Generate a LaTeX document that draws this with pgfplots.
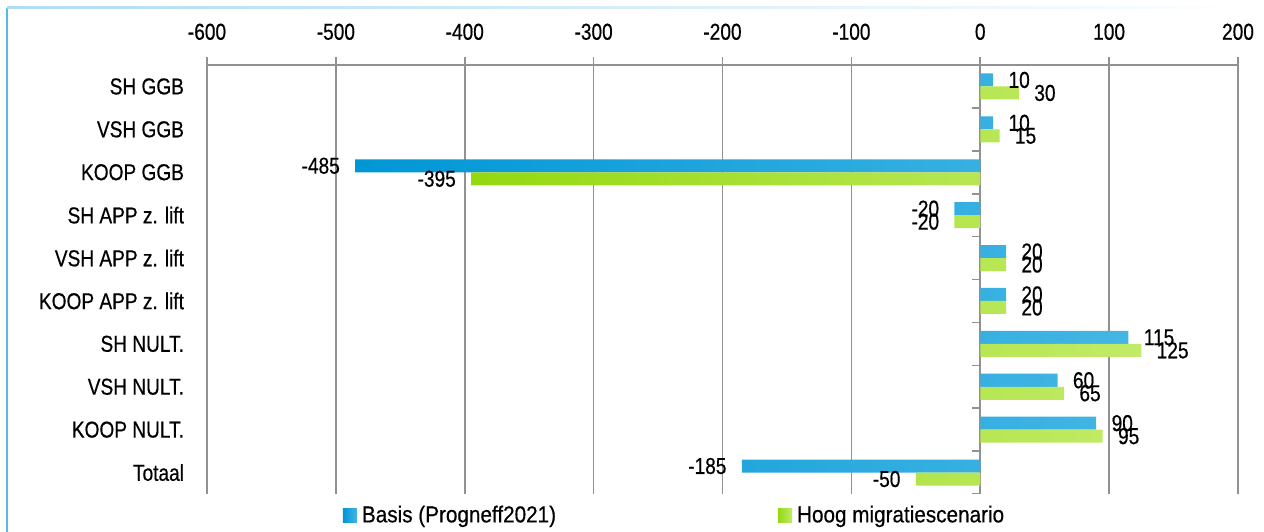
\documentclass[border=0pt]{standalone}
\usepackage{pgfplots}
\pgfplotsset{compat=1.18}
\usepackage{fontspec}
\setmainfont[FakeStretch=0.83,FakeBold=0.5]{Liberation Sans}
\newfontfamily\legfont[FakeStretch=0.9,FakeBold=0.5]{Liberation Sans}
\definecolor{blueL}{RGB}{0,150,214}
\definecolor{blueR}{RGB}{68,182,228}
\definecolor{greenL}{RGB}{148,216,16}
\definecolor{greenR}{RGB}{194,235,104}
\definecolor{gridgray}{RGB}{145,145,145}
\definecolor{frameblue}{RGB}{85,185,235}
\definecolor{frametop}{RGB}{175,220,245}
\begin{document}
\begin{tikzpicture}
\path[use as bounding box] (0,0) rectangle (632bp,266bp);
\draw[line width=1bp, color=frameblue] (3.5bp,0) -- (3.5bp,262bp);
\shade[left color=frametop, right color=white, draw=none] (3.5bp,261.5bp) rectangle (632bp,262.5bp);
\begin{axis}[
  at={(103.5bp,19bp)}, anchor=south west,
  scale only axis, width=515.5bp, height=214.5bp,
  xmin=-600, xmax=200, ymin=-0.5, ymax=9.5,
  axis x line*=top, axis y line*=left,
  y axis line style={draw=none},
  x axis line style={draw=gridgray, line width=0.8bp, -},
  xtick={-600,-500,...,200},
  xtick align=outside, ytick align=inside,
  major tick length=4bp,
  xtick style={draw=gridgray, line width=0.8bp},
  ytick style={draw=none},
  xmajorgrids, major grid style={draw=gridgray, line width=0.8bp},
  ytick={0,...,9},
  yticklabels={Totaal,KOOP NULT.,VSH NULT.,SH NULT.,KOOP APP z. lift,VSH APP z. lift,SH APP z. lift,KOOP GGB,VSH GGB,SH GGB},
  tick label style={font=\fontsize{11.5bp}{13bp}\selectfont, text=black},
  xticklabel style={yshift=5bp},
  yticklabel style={xshift=-8bp},
  /pgf/number format/assume math mode=true,
  point meta=x,
  nodes near coords,
  nodes near coords align={horizontal},
  every node near coord/.append style={font=\fontsize{11.5bp}{13bp}\selectfont, text=black, inner xsep=7.5bp, inner ysep=0pt},
  legend columns=2,
  legend style={draw=none, fill=none, at={(axis description cs:0.1319,-0.0501)}, anchor=west,
    inner sep=0pt, outer sep=0pt,
    nodes={inner sep=0pt, anchor=west, font=\legfont\fontsize{11.5bp}{13bp}\selectfont},
    /tikz/every odd column/.append style={column sep=2.5bp},
    /tikz/every even column/.append style={column sep=111bp}},
]
\addplot[xbar, bar width=6.5bp, bar shift=3.25bp, draw=none, left color=blueL, right color=blueR,
  every node near coord/.append style={yshift=3.25bp},
  legend image code/.code={\fill[left color=blueL, right color=blueR, draw=none] (0bp,-3.5bp) rectangle (7bp,3.5bp);}]
  coordinates {(10,9) (10,8) (-485,7) (-20,6) (20,5) (20,4) (115,3) (60,2) (90,1) (-185,0)};
\addlegendentry{Basis (Progneff2021)}
\addplot[xbar, bar width=6.5bp, bar shift=-3.25bp, draw=none, left color=greenL, right color=greenR,
  every node near coord/.append style={yshift=-3.25bp},
  legend image code/.code={\fill[left color=greenL, right color=greenR, draw=none] (0bp,-3.5bp) rectangle (7bp,3.5bp);}]
  coordinates {(30,9) (15,8) (-395,7) (-20,6) (20,5) (20,4) (125,3) (65,2) (95,1) (-50,0)};
\addlegendentry{Hoog migratiescenario}
\pgfplotsinvokeforeach{-0.5,0.5,1.5,2.5,3.5,4.5,5.5,6.5,7.5,8.5,9.5}{
  \draw[gridgray, line width=0.8bp] (axis cs:0,#1) -- ([xshift=-4bp]axis cs:0,#1);
}
\end{axis}
\end{tikzpicture}
\end{document}
